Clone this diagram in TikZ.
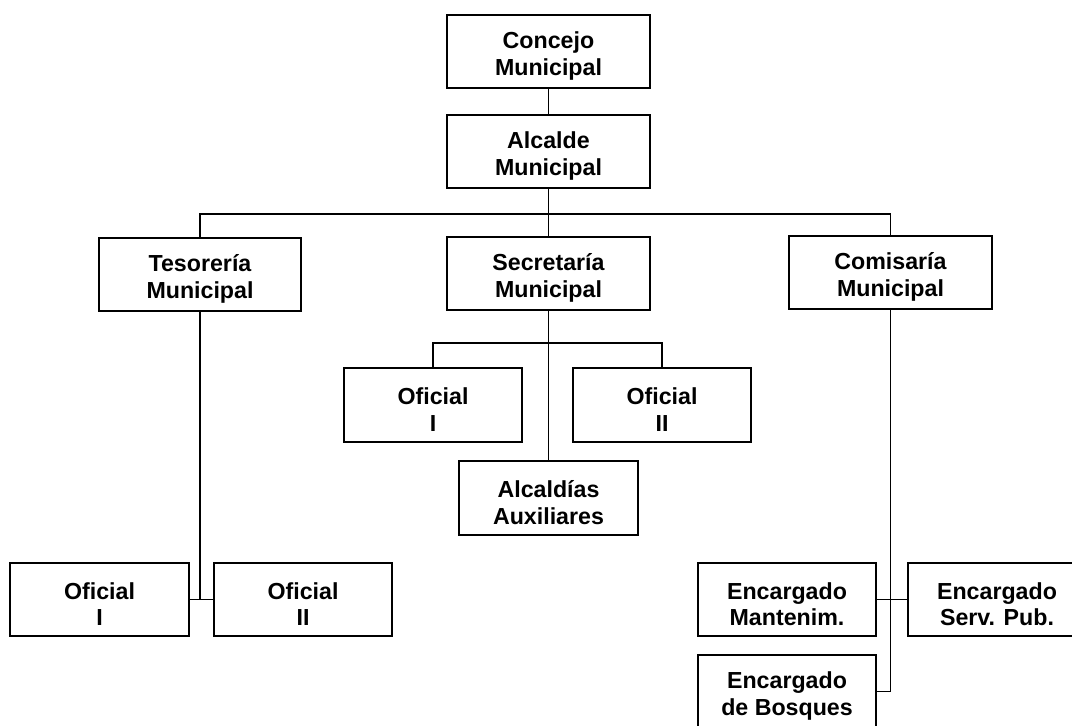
\documentclass[tikz,border=0pt]{standalone}
\usepackage{fontspec}
\setmainfont{Liberation Sans}
\usepackage{tikz}
\usetikzlibrary{positioning, calc}

\newcommand{\boxtop}{\rule{0pt}{18.5pt}}

\begin{document}
\begin{tikzpicture}[x=0.025cm, y=-0.025cm,
    unit/.style={draw, line width=1.4pt, align=center, inner sep=0pt,
        font=\fontsize{16.5}{19}\selectfont\bfseries,
        minimum width=5.05cm, minimum height=1.83cm},
    subunit/.style={unit, minimum width=4.45cm},
    link/.style={line width=1.4pt}]

\useasboundingbox (0,0) rectangle (1072,725);
\clip (0,0) rectangle (1072,725);

% ── TOP ──────────────────────────────────────────────────────────
\node[unit] (concejo) at (548.5, 51.5) {\boxtop Concejo\\Municipal};
\node[unit] (alcalde) at (548.5, 151.5) {\boxtop Alcalde\\Municipal};

% ── DEPENDENCIAS ─────────────────────────────────────────────────
\node[unit] (tesoreria)  at (200, 274.5) {\boxtop Tesorería\\Municipal};
\node[unit] (secretaria) at (548.5, 273.5) {\boxtop Secretaría\\Municipal};
\node[unit] (comisaria)  at (890.5, 272.5) {\boxtop Comisaría\\Municipal};

% Secretaría
\node[subunit] (sofi1) at (433, 405) {\boxtop Oficial\\I};
\node[subunit] (sofi2) at (662, 405) {\boxtop Oficial\\II};
\node[subunit] (alcaldias) at (548.5, 498) {\boxtop Alcaldías\\Auxiliares};

% Tesorería
\node[subunit] (tofi1) at (99.5, 599.5) {\boxtop Oficial\\I};
\node[subunit] (tofi2) at (303, 599.5) {\boxtop Oficial\\II};

% Comisaría
\node[subunit] (mant)    at (787, 599.5) {\boxtop Encargado\\Mantenim.};
\node[subunit] (serv)    at (997, 599.5) {\boxtop Encargado\\Serv. Pub.};
\node[subunit] (bosques) at (787, 691.5) {\boxtop Encargado\\de Bosques};

% ── CONNECTORS ───────────────────────────────────────────────────
\coordinate (bus1) at (548.5, 214);
\coordinate (bus2) at (548.5, 343);

\draw[link] (concejo) -- (alcalde);
\draw[link] (alcalde.south) -- (bus1) -- (secretaria.north);
\draw[link] (tesoreria.north) |- (bus1) -| (comisaria.north);

\draw[link] (secretaria.south) -- (alcaldias.north);
\draw[link] (sofi1.north) |- (bus2) -| (sofi2.north);

\draw[link] (tofi1.east) -- (tofi2.west);
\draw[link] (tesoreria.south) -- (tesoreria.south |- tofi1.east);

\draw[link] (mant.east) -- (serv.west);
\draw[link] (comisaria.south) |- (bosques.east);

\end{tikzpicture}
\end{document}
